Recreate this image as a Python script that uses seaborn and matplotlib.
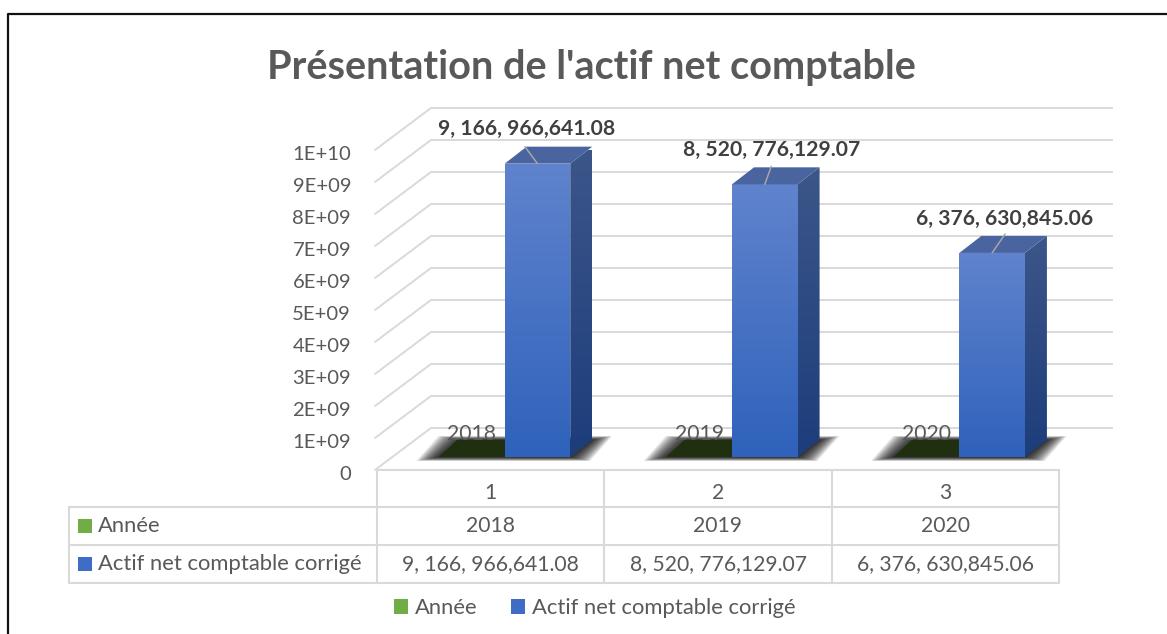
import numpy as np
import pandas as pd
import matplotlib
matplotlib.use("Agg")
import matplotlib.pyplot as plt
import seaborn as sns
from matplotlib.colors import LinearSegmentedColormap
from matplotlib.lines import Line2D
from matplotlib.patches import Polygon, Rectangle
from matplotlib.transforms import Affine2D, IdentityTransform, ScaledTranslation

# ---- data ----
categories = ["1", "2", "3"]
series_names = ["Année", "Actif net comptable corrigé"]
annee = [2018, 2019, 2020]
actif = [9166966641.08, 8520776129.07, 6376630845.06]
actif_labels = ["9, 166, 966,641.08", "8, 520, 776,129.07", "6, 376, 630,845.06"]
y_ticks = [0, 1e9, 2e9, 3e9, 4e9, 5e9, 6e9, 7e9, 8e9, 9e9, 1e10]
y_tick_labels = ["0", "1E+09", "2E+09", "3E+09", "4E+09", "5E+09",
                 "6E+09", "7E+09", "8E+09", "9E+09", "1E+10"]

W, H = 1167, 634
GREY = "#595959"
LINE = "#d9d9d9"
FONT = "Lato"
FS_NUM = 15.2
FS_TXT = 15.8
FS_TICK = 14.6

sns.set_theme(style="white")
plt.rcParams["font.family"] = [FONT, "DejaVu Sans"]

df = pd.DataFrame({
    "cat": categories * 2,
    "serie": [series_names[0]] * 3 + [series_names[1]] * 3,
    "val": annee + actif,
})

fig = plt.figure(figsize=(W / 100, H / 100), dpi=100, facecolor="white")
# axes = front plane of the 3D box
ax = fig.add_axes([377 / W, 1 - 470 / H, (1059 - 377) / W, 320 / H])
sns.barplot(data=df, x="cat", y="val", hue="serie", order=categories,
            hue_order=series_names, palette=["#70ad47", "#3f6cc4"],
            width=0.577, gap=0, saturation=1, errorbar=None, ax=ax, linewidth=0, zorder=6)
ax.set_xlim(-0.5, 2.5)
ax.set_ylim(0, 1e10)
ax.autoscale(False)
ax.set_xlabel("")
ax.set_ylabel("")
ax.patch.set_alpha(0)
sns.despine(ax=ax, left=True, bottom=True)
ax.set_yticks(y_ticks)
ax.set_yticklabels(y_tick_labels, fontsize=FS_TICK, color=GREY)
ax.tick_params(axis="y", length=0, pad=18.7)
ax.tick_params(axis="x", length=0, pad=9.5, labelsize=FS_NUM, labelcolor=GREY)
for lab in ax.get_yticklabels():
    lab.set_transform(lab.get_transform() + ScaledTranslation(0, -3.0 / 100, fig.dpi_scale_trans))


ID = IdentityTransform()
BACK = (54, 42)          # depth of the whole box, pixels
FRONT = (14, 13)         # where the bars' front face sits
DEPTH = (22, 17)         # depth of a bar

# walls
back_tr = ax.transData + Affine2D().translate(*BACK)
ax.hlines(y_ticks, -0.5, 2.5, colors=LINE, lw=1.4, transform=back_tr, clip_on=False, zorder=1)
for v in y_ticks:
    a = ax.transData.transform((-0.5, v))
    ax.add_line(Line2D([a[0] - 2, a[0] + BACK[0]], [a[1], a[1] + BACK[1]], color=LINE, lw=1.4,
                       transform=ID, clip_on=False, zorder=1))

# bars in the 3D box
front_tr = ax.transData + Affine2D().translate(*FRONT)
green_bars, blue_bars = ax.containers[0], ax.containers[1]
for b in list(green_bars) + list(blue_bars):
    b.set_transform(front_tr)
    b.set_clip_on(False)


def gradient_face(pts, top, bottom, z):
    pts = np.asarray(pts)
    cmap = LinearSegmentedColormap.from_list("g", [top, bottom])
    grad = np.linspace(0, 1, 256).reshape(-1, 1)
    im = ax.imshow(grad, cmap=cmap, aspect="auto", interpolation="bilinear",
                   extent=(pts[:, 0].min(), pts[:, 0].max(), pts[:, 1].min(), pts[:, 1].max()),
                   transform=ID, zorder=z, clip_on=True)
    im.set_clip_path(Polygon(pts, closed=True, transform=ID))


def corners(bar):
    x0, x1 = bar.get_x(), bar.get_x() + bar.get_width()
    h = bar.get_height()
    return front_tr.transform((x0, 0)), front_tr.transform((x1, 0)), front_tr.transform((x1, h)), front_tr.transform((x0, h))


dx, dy = DEPTH
for g, b in zip(green_bars, blue_bars):
    gl, _, _, _ = corners(g)
    bl, br, brt, blt = corners(b)
    # soft floor shadow
    for s in np.linspace(1, 0.03, 26):
        sl, sr, sv = 23 * s, 20 * s, 4 * s
        shadow = [(gl[0] - sl, gl[1] - sv), (gl[0] + dx - sl, gl[1] + dy + sv),
                  (br[0] + dx + sr, br[1] + dy + sv), (br[0] + sr, br[1] - sv)]
        ax.add_patch(Polygon(shadow, closed=True, transform=ID, facecolor="black",
                             edgecolor="none", alpha=0.055, zorder=2, clip_on=False))
    # flat green series: only its (dark) top is visible
    ax.add_patch(Polygon([gl, (gl[0] + dx - 4, gl[1] + dy), (br[0], bl[1] + dy), bl], closed=True, transform=ID,
                         facecolor="#1f2f10", edgecolor="none", zorder=3, clip_on=False))
    # blue faces
    gradient_face([bl, br, brt, blt], "#6083cd", "#2f62bb", 7)
    gradient_face([br, (br[0] + dx, br[1] + dy), (brt[0] + dx, brt[1] + dy), brt], "#3c5689", "#1d3d7b", 7)
    ax.add_patch(Polygon([blt, brt, (brt[0] + dx, brt[1] + dy), (blt[0] + dx, blt[1] + dy)], closed=True,
                         transform=ID, facecolor="#4a64a0", edgecolor="none", zorder=7, clip_on=False))

ax.set_xlim(-0.5, 2.5)
ax.set_ylim(0, 1e10)

# labels of the flat series on the floor
for g, txt in zip(green_bars, annee):
    cx = g.get_x() + g.get_width() / 2
    ax.annotate(str(txt), xy=(cx, 0), xycoords=front_tr, xytext=(0, 23 * 0.72), textcoords="offset points",
                ha="center", va="center", fontsize=FS_NUM, color=GREY, zorder=5, annotation_clip=False)

# labels of the tall series with their leader lines
label_offsets = [(-11, 35), (7, 34), (12, 34)]
line_ends = [(-12.5, 17), (6.5, 18), (13, 19)]
for b, txt, off, le in zip(blue_bars, actif_labels, label_offsets, line_ends):
    cx = b.get_x() + b.get_width() / 2
    p = front_tr.transform((cx, b.get_height()))
    ax.add_line(Line2D([p[0], p[0] + le[0]], [p[1], p[1] + le[1]], color="#a6a6a6", lw=1.1,
                       transform=ID, clip_on=False, zorder=8))
    ax.annotate(txt, xy=(cx, b.get_height()), xycoords=front_tr,
                xytext=(off[0] * 0.72, off[1] * 0.72), textcoords="offset points",
                ha="center", va="center", fontsize=FS_NUM, fontweight="bold", color="#404040",
                zorder=9, annotation_clip=False)

# data table under the chart
col_edges = [ax.transData.transform((c, 0))[0] for c in (-0.5, 0.5, 1.5, 2.5)]
rows_y = [470, 507, 545, 583]
tbl_left = 69


def tline(x0, y0, x1, y1):
    fig.add_artist(Line2D([x0 / W, x1 / W], [1 - y0 / H, 1 - y1 / H], color=LINE, lw=1.5,
                          transform=fig.transFigure, zorder=1))


tline(col_edges[0], rows_y[0], col_edges[-1], rows_y[0])
for y in rows_y[1:]:
    tline(tbl_left, y, col_edges[-1], y)
for x in col_edges:
    tline(x, rows_y[0], x, rows_y[-1])
tline(tbl_left, rows_y[1], tbl_left, rows_y[-1])

rows = [[str(a) for a in annee], actif_labels]
key_cols = ["#70ad47", "#3f6cc4"]
for i, (name, vals, col) in enumerate(zip(series_names, rows, key_cols)):
    yc = (rows_y[i + 1] + rows_y[i + 2]) / 2
    fig.add_artist(Rectangle((78 / W, 1 - (yc + 7) / H), 14 / W, 14 / H, transform=fig.transFigure,
                             facecolor=col, edgecolor="none"))
    fig.text(98 / W, 1 - (yc + 0.5) / H, name, ha="left", va="center", fontsize=FS_TXT, color=GREY)
    for j, v in enumerate(vals):
        xc = (col_edges[j] + col_edges[j + 1]) / 2
        fig.text(xc / W, 1 - (yc + 0.5) / H, v, ha="center", va="center", fontsize=FS_NUM, color=GREY)

# legend
sns.move_legend(ax, loc="center", bbox_to_anchor=(595 / W, 1 - 608 / H), bbox_transform=fig.transFigure,
                ncol=2, title=None, frameon=False, fontsize=FS_TXT, handlelength=0.64, handleheight=0.64,
                handletextpad=0.32, columnspacing=1.5, labelcolor=GREY)

# title and outer frame
fig.text(591 / W, 1 - 67 / H, "Présentation de l'actif net comptable", ha="center", va="center",
         fontsize=28.5, fontweight="bold", color=GREY)
fig.add_artist(Line2D([8 / W, 8 / W, 1], [0, 1 - 14 / H, 1 - 14 / H], color="#111111", lw=1.6,
                      transform=fig.transFigure))

fig.savefig("out.png", dpi=100, facecolor="white")
